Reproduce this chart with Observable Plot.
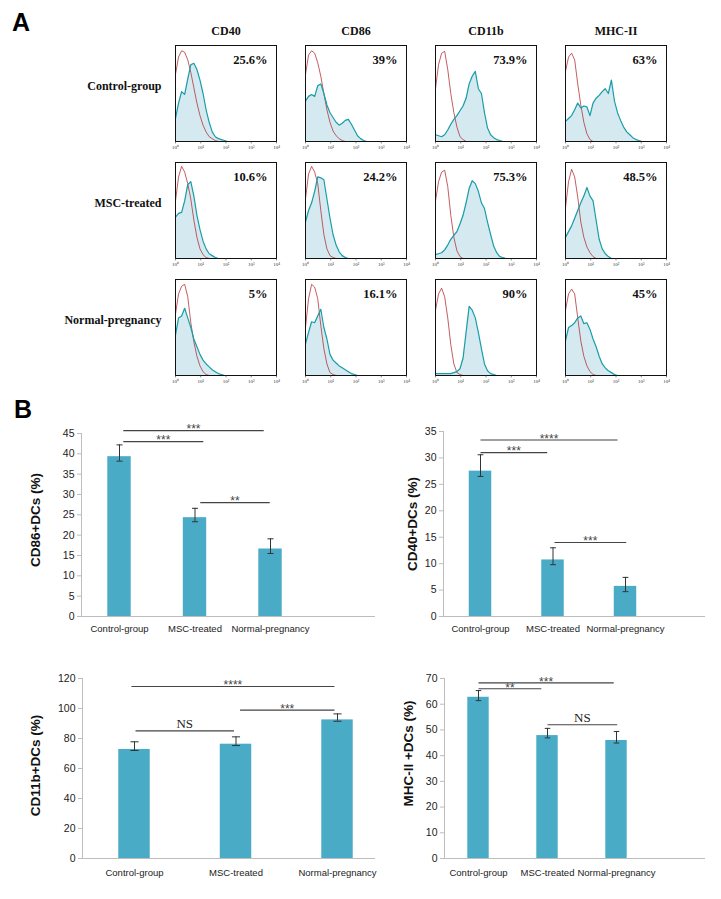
<!DOCTYPE html>
<html><head><meta charset="utf-8">
<script src="https://cdn.jsdelivr.net/npm/d3@7"></script>
<script src="https://cdn.jsdelivr.net/npm/@observablehq/plot@0.6"></script>
<style>
body{margin:0;background:#fff;}
#fig{position:relative;width:721px;height:899px;background:#fff;overflow:hidden;font-family:"Liberation Sans",Arial,sans-serif;}
.panel{position:absolute;}
.letter{position:absolute;font:bold 25px "Liberation Sans",Arial,sans-serif;line-height:1;color:#000;}
</style></head><body><div id="fig"></div>
<script>
// ---------- Panel A data ----------
const markers = ["CD40", "CD86", "CD11b", "MHC-II"];
const groups = ["Control-group", "MSC-treated", "Normal-pregnancy"];

const tealControl = [
  [0.24,0.4,0.52,0.49,0.65,0.8,0.815,0.75,0.64,0.5,0.33,0.2,0.1,0.05,0.03,0.02,0.01,0],
  [0.42,0.47,0.49,0.47,0.58,0.6,0.5,0.38,0.3,0.25,0.2,0.17,0.19,0.22,0.23,0.18,0.12,0.06,0.03,0.01,0],
  [0.07,0.06,0.05,0.07,0.12,0.18,0.23,0.27,0.32,0.37,0.45,0.6,0.68,0.73,0.55,0.5,0.3,0.14,0.07,0.04,0.02,0.01,0],
  [0.21,0.24,0.27,0.33,0.4,0.35,0.37,0.36,0.27,0.4,0.45,0.48,0.52,0.55,0.5,0.64,0.42,0.3,0.22,0.15,0.1,0.07,0.04,0.02,0.01,0]
];
const redControl = [
  [0.7,0.88,0.945,0.93,0.85,0.72,0.56,0.4,0.27,0.17,0.1,0.05,0.03,0.01,0],
  [0.7,0.9,0.945,0.92,0.82,0.68,0.5,0.33,0.2,0.11,0.06,0.03,0.01,0],
  [0.55,0.8,0.92,0.94,0.75,0.5,0.3,0.15,0.05,0.02,0],
  [0.73,0.88,0.92,0.85,0.6,0.38,0.2,0.08,0.02,0]
];
const tealMSC = [
  [0.43,0.47,0.48,0.6,0.77,0.8,0.65,0.45,0.3,0.18,0.1,0.05,0.03,0.01,0],
  [0.38,0.5,0.58,0.7,0.85,0.84,0.82,0.62,0.42,0.25,0.14,0.07,0.03,0.01,0],
  [0.04,0.05,0.06,0.09,0.14,0.2,0.24,0.28,0.36,0.45,0.58,0.73,0.81,0.78,0.7,0.58,0.52,0.38,0.25,0.13,0.06,0.02,0.01,0],
  [0.22,0.28,0.34,0.42,0.5,0.58,0.65,0.74,0.65,0.6,0.4,0.2,0.1,0.05,0.02,0]
];
const redMSC = [
  [0.6,0.85,0.96,0.9,0.78,0.62,0.4,0.22,0.1,0.04,0.01,0],
  [0.62,0.88,0.96,0.9,0.78,0.5,0.25,0.1,0.03,0.01,0],
  [0.6,0.8,0.9,0.92,0.75,0.45,0.22,0.08,0.02,0],
  [0.53,0.8,0.93,0.85,0.64,0.38,0.22,0.12,0.06,0.02,0]
];
const tealNormal = [
  [0.42,0.6,0.62,0.7,0.6,0.5,0.38,0.3,0.22,0.16,0.12,0.09,0.06,0.04,0.02,0.01,0],
  [0.33,0.45,0.56,0.55,0.62,0.69,0.5,0.38,0.22,0.16,0.13,0.1,0.08,0.06,0.04,0.02,0.01,0],
  [0.02,0.02,0.02,0.02,0.02,0.02,0.03,0.04,0.07,0.18,0.45,0.72,0.68,0.6,0.45,0.28,0.12,0.05,0.02,0.01,0],
  [0.36,0.5,0.52,0.55,0.6,0.62,0.54,0.55,0.48,0.38,0.3,0.2,0.12,0.08,0.05,0.03,0.01,0]
];
const redNormal = [
  [0.64,0.85,0.93,0.95,0.82,0.55,0.35,0.2,0.1,0.04,0.01,0],
  [0.5,0.8,0.95,0.92,0.8,0.52,0.28,0.12,0.03,0.01,0],
  [0.68,0.85,0.91,0.82,0.6,0.32,0.12,0.03,0.01,0],
  [0.68,0.85,0.9,0.85,0.6,0.36,0.2,0.1,0.04,0.01,0]
];
const pctControl = ["25.6%", "39%", "73.9%", "63%"];
const pctMSC = ["10.6%", "24.2%", "75.3%", "48.5%"];
const pctNormal = ["5%", "16.1%", "90%", "45%"];
const histTicks = [0, 8.25, 16.5, 24.75, 33];
const histTickLabels = ["10⁰", "10¹", "10²", "10³", "10⁴"];

// ---------- Panel B data ----------
const cd86Mean = [39.3, 24.3, 16.6], cd86Lo = [38.2, 23.3, 15.5], cd86Hi = [42.2, 26.6, 19.1];
const cd40Mean = [27.5, 10.7, 5.7], cd40Lo = [26.5, 9.8, 4.7], cd40Hi = [30.6, 13.0, 7.4];
const cd11bMean = [72.7, 76.2, 92.4], cd11bLo = [72.0, 75.3, 91.5], cd11bHi = [77.8, 81.1, 96.4];
const mhcMean = [62.7, 47.8, 45.9], mhcLo = [61.4, 46.9, 44.9], mhcHi = [65.3, 50.6, 49.4];
const cd86Sig = [{from: 0.05, to: 1.11, y: 43.0, label: "***"}, {from: 0.05, to: 1.91, y: 45.7, label: "***"}, {from: 1.07, to: 1.99, y: 28.0, label: "**"}];
const cd40Sig = [{from: 0, to: 0.92, y: 31.0, label: "***"}, {from: 0, to: 1.89, y: 33.4, label: "****"}, {from: 1.02, to: 2.01, y: 14.0, label: "***"}];
const cd11bSig = [{from: 0.01, to: 0.98, y: 85.1, label: "NS"}, {from: -0.03, to: 1.97, y: 114.7, label: "****"}, {from: 1.04, to: 1.97, y: 98.9, label: "***"}];
const mhcSig = [{from: 0, to: 0.91, y: 66.0, label: "**"}, {from: 0, to: 1.96, y: 68.3, label: "***"}, {from: 1, to: 2.01, y: 52.0, label: "NS"}];

// ---------- build Panel A ----------
const fig = document.getElementById("fig");
const tealSets = [tealControl, tealMSC, tealNormal];
const redSets = [redControl, redMSC, redNormal];
const pctSets = [pctControl, pctMSC, pctNormal];
const tealRows = [], redRows = [], pctRows = [];
groups.forEach((g, gi) => markers.forEach((m, mi) => {
  tealSets[gi][mi].forEach((v, i) => tealRows.push({group: g, marker: m, bin: i, v}));
  redSets[gi][mi].forEach((v, i) => redRows.push({group: g, marker: m, bin: i, v}));
  pctRows.push({group: g, marker: m, pct: pctSets[gi][mi]});
}));
const serif = "Liberation Serif, Times New Roman, serif";

const plotA = Plot.plot({
  width: 721, height: 392,
  marginTop: 44, marginLeft: 174, marginRight: 53, marginBottom: 17,
  style: {fontFamily: serif, background: "transparent"},
  fx: {domain: markers, range: [174, 668], paddingInner: 0.22, paddingOuter: 0, axis: null},
  fy: {domain: groups, range: [44, 375], paddingInner: 0.183, paddingOuter: 0, axis: null},
  x: {domain: [0, 33], axis: null},
  y: {domain: [0, 1], axis: null},
  marks: [
    Plot.areaY(tealRows, {x: "bin", y: "v", fx: "marker", fy: "group", fill: "#d5e9f1"}),
    Plot.lineY(redRows, {x: "bin", y: "v", fx: "marker", fy: "group", stroke: "#b3363b", strokeWidth: 0.8}),
    Plot.lineY(tealRows, {x: "bin", y: "v", fx: "marker", fy: "group", stroke: "#179ea6", strokeWidth: 1.2}),
    Plot.frame({stroke: "#111", strokeWidth: 1}),
    Plot.ruleX(histTicks, {x: d => d, y1: 0, y2: -0.025, stroke: "#333", strokeWidth: 0.6}),
    Plot.text(histTicks, {x: d => d, y: -0.06, text: (d, i) => histTickLabels[i], fontSize: 5, fill: "#333"}),
    Plot.text(pctRows, {fx: "marker", fy: "group", text: "pct", frameAnchor: "top-right", textAnchor: "end", lineAnchor: "middle", dx: -9, dy: 14, fontSize: 12.5, fontWeight: "bold", fontFamily: serif, fill: "#111"}),
    Plot.text(markers, {fx: d => d, fy: () => groups[0], text: d => d, frameAnchor: "top", lineAnchor: "middle", dy: -14, fontSize: 12, fontWeight: "bold", fontFamily: serif, fill: "#111"}),
    Plot.text(groups, {fx: () => markers[0], fy: d => d, text: d => d, frameAnchor: "left", textAnchor: "end", lineAnchor: "middle", dx: -14, dy: -7, fontSize: 12, fontWeight: "bold", fontFamily: serif, fill: "#111"})
  ]
});
const divA = document.createElement("div");
divA.className = "panel"; divA.style.left = "0px"; divA.style.top = "0px";
divA.appendChild(plotA);
fig.appendChild(divA);

// ---------- build Panel B ----------
const barColor = "#4aabc6";
const BAR_HALF = 0.155, CAP = 0.04;
function barChart(cfg) {
  const idx = [0, 1, 2];
  const stars = cfg.sig.filter(d => d.label !== "NS");
  const ns = cfg.sig.filter(d => d.label === "NS");
  const p = Plot.plot({
    width: cfg.width, height: cfg.height,
    marginLeft: cfg.ml, marginRight: cfg.mr, marginTop: cfg.mt, marginBottom: cfg.mb,
    style: {fontFamily: "Liberation Sans, Arial, sans-serif", fontSize: "10.5px", color: "#222", background: "transparent"},
    x: {domain: [0, 2], range: cfg.xRange, axis: null},
    y: {domain: [0, cfg.max], axis: null},
    marks: [
      Plot.frame({anchor: "left", stroke: "#bdbdbd"}),
      Plot.ruleY([0], {stroke: "#bdbdbd"}),
      Plot.axisY({ticks: d3.range(0, cfg.max + 0.001, cfg.step), tickSize: 4, tickPadding: 3, fontSize: 10.5, label: null, stroke: "#bdbdbd", fill: "#222"}),
      Plot.axisX({ticks: idx, tickFormat: i => groups[i], tickSize: 0, tickPadding: cfg.catPad, fontSize: 9.5, label: null, fill: "#222"}),
      Plot.rectY(idx, {x1: i => i - BAR_HALF, x2: i => i + BAR_HALF, y: i => cfg.mean[i], fill: barColor}),
      Plot.ruleX(idx, {x: i => i, y1: i => cfg.lo[i], y2: i => cfg.hi[i], stroke: "#333", strokeWidth: 1}),
      Plot.link(idx, {x1: i => i - CAP, x2: i => i + CAP, y1: i => cfg.hi[i], y2: i => cfg.hi[i], stroke: "#333"}),
      Plot.link(idx, {x1: i => i - CAP, x2: i => i + CAP, y1: i => cfg.lo[i], y2: i => cfg.lo[i], stroke: "#333"}),
      Plot.link(cfg.sig, {x1: "from", x2: "to", y1: "y", y2: "y", stroke: "#444", strokeWidth: 1.1}),
      Plot.text(stars, {x: d => (d.from + d.to) / 2, y: "y", text: "label", lineAnchor: "middle", dy: -1, fontSize: 12, fill: "#444"}),
      Plot.text(ns, {x: d => (d.from + d.to) / 2, y: "y", text: "label", lineAnchor: "middle", dy: -7, fontSize: 13, fontFamily: serif, fill: "#222"}),
      Plot.text([cfg.title], {frameAnchor: "left", rotate: -90, dx: cfg.titleDx, dy: cfg.titleDy, textAnchor: "middle", lineAnchor: "middle", fontSize: 13.5, fontWeight: "bold", fill: "#111"})
    ]
  });
  const d = document.createElement("div");
  d.className = "panel"; d.style.left = cfg.left + "px"; d.style.top = cfg.top + "px";
  d.appendChild(p);
  fig.appendChild(d);
}
barChart({left: 0, top: 400, width: 380, height: 245, ml: 81, mr: 5, mt: 33, mb: 29, xRange: [119, 270], max: 45, step: 5,
  mean: cd86Mean, lo: cd86Lo, hi: cd86Hi, sig: cd86Sig, title: "CD86+DCs (%)", titleDx: -46, titleDy: -5, catPad: 9});
barChart({left: 380, top: 400, width: 341, height: 245, ml: 63, mr: 16, mt: 31, mb: 29, xRange: [100, 245], max: 35, step: 5,
  mean: cd40Mean, lo: cd40Lo, hi: cd40Hi, sig: cd40Sig, title: "CD40+DCs (%)", titleDx: -31, titleDy: 0, catPad: 9});
barChart({left: 0, top: 650, width: 380, height: 240, ml: 82, mr: 5, mt: 28, mb: 32, xRange: [134, 337], max: 120, step: 20,
  mean: cd11bMean, lo: cd11bLo, hi: cd11bHi, sig: cd11bSig, title: "CD11b+DCs (%)", titleDx: -47, titleDy: -3, catPad: 11});
barChart({left: 380, top: 650, width: 341, height: 240, ml: 64, mr: 16, mt: 28, mb: 32, xRange: [98, 236], max: 70, step: 10,
  mean: mhcMean, lo: mhcLo, hi: mhcHi, sig: mhcSig, title: "MHC-II +DCs (%)", titleDx: -36, titleDy: -15, catPad: 11});

// ---------- panel letters ----------
for (const [t, l, tp] of [["A", 12, 10], ["B", 14, 397]]) {
  const s = document.createElement("div");
  s.className = "letter"; s.textContent = t; s.style.left = l + "px"; s.style.top = tp + "px";
  fig.appendChild(s);
}
</script></body></html>
